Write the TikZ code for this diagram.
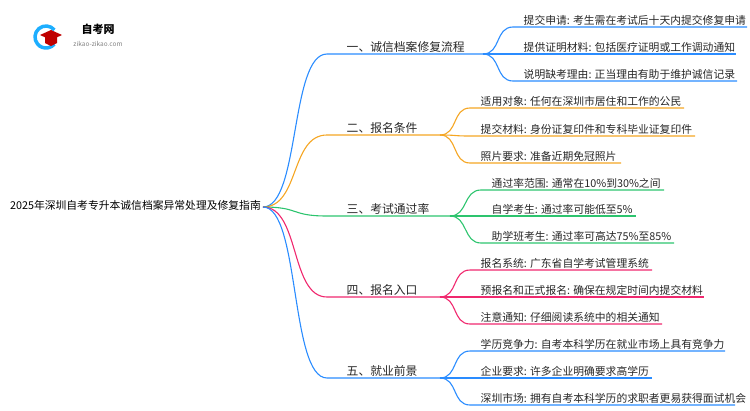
\documentclass[tikz,border=0pt]{standalone}
\usepackage{fontspec}
\setmainfont{Noto Sans CJK SC}
\begin{document}
\begin{tikzpicture}[x=1pt,y=-1pt,
  lnk/.style={line width=1.1pt},
  lab/.style={anchor=south west,inner sep=1.5pt,font=\fontsize{11.8}{13}\selectfont,text=black!85},
  sub/.style={anchor=south west,inner sep=1.5pt,font=\fontsize{10.8}{12}\selectfont,text=black!85}]
\definecolor{cb}{HTML}{2A8CFF}
\definecolor{co}{HTML}{F5A623}
\definecolor{cg}{HTML}{2DC46E}
\definecolor{cp}{HTML}{F0286E}
\useasboundingbox (0,0) rectangle (750,410);
% logo
\begin{scope}[shift={(46,37)},x=1pt,y=1pt]
\draw[cb!70!cyan,line width=3.5pt] (40:11) arc (40:320:11);
\fill[red!75!black] (-6,2) -- (5,7) -- (16,2) -- (5,-3) -- cycle;
\fill[red!75!black] (-1,1) -- (-1,-6) -- (5,-9) -- (11,-6) -- (11,1) -- cycle;
\end{scope}
\node[font=\bfseries\fontsize{11}{12}\selectfont] (logo) at (98,29) {自考网};
\node[font=\fontsize{6.5}{7}\selectfont,text=gray] (url) at (98,44) {zikao-zikao.com};
% root
\node[anchor=east,inner sep=1pt,font=\fontsize{10.8}{12}\selectfont] (root) at (262,205) {2025年深圳自考专升本诚信档案异常处理及修复指南};
\coordinate (r) at (263,207);
\foreach \n/\y/\e/\c/\t/\ya/\ea/\ta/\yb/\eb/\tb/\yc/\ec/\tc/\tx in {
 1/54/483/cb/一、诚信档案修复流程/27/747/提交申请: 考生需在考试后十天内提交修复申请/54/736/提供证明材料: 包括医疗证明或工作调动通知/81/737/说明缺考理由: 正当理由有助于维护诚信记录/513,
 2/135/440/co/二、报名条件/108/684/适用对象: 任何在深圳市居住和工作的公民/136/695/提交材料: 身份证复印件和专科毕业证复印件/163/621/照片要求: 准备近期免冠照片/470,
 3/216/450/cg/三、考试通过率/190/664/通过率范围: 通常在10\%到30\%之间/216/636/自学考生: 通过率可能低至5\%/243/674/助学班考生: 通过率可高达75\%至85\%/481,
 4/297/440/cp/四、报名入口/270/652/报名系统: 广东省自学考试管理系统/297/704/预报名和正式报名: 确保在规定时间内提交材料/324/662/注意通知: 仔细阅读系统中的相关通知/470,
 5/378/440/cb/五、就业前景/351/725/学历竞争力: 自考本科学历在就业市场上具有竞争力/378/652/企业要求: 许多企业明确要求高学历/405/735/深圳市场: 拥有自考本科学历的求职者更易获得面试机会/470}{
  \coordinate (b\n s) at (327,\y);
  \coordinate (b\n e) at (\e,\y);
  \node[lab] (L\n) at (345,\y) {\t};
  \draw[lnk,\c] (r) .. controls (300,207) and (290,\y) .. (b\n s) -- (b\n e);
  \coordinate (c\n a) at (\tx,\ya); \coordinate (c\n ae) at (\ea,\ya);
  \coordinate (c\n b) at (\tx,\yb); \coordinate (c\n be) at (\eb,\yb);
  \coordinate (c\n c) at (\tx,\yc); \coordinate (c\n ce) at (\ec,\yc);
  \draw[lnk,\c] (b\n e) .. controls (\e+18,\y) and (\tx-18,\ya) .. (c\n a) -- (c\n ae);
  \draw[lnk,\c] (b\n e) .. controls (\e+18,\y) and (\tx-18,\yb) .. (c\n b) -- (c\n be);
  \draw[lnk,\c] (b\n e) .. controls (\e+18,\y) and (\tx-18,\yc) .. (c\n c) -- (c\n ce);
  \node[sub] (S\n a) at (\tx+9,\ya) {\ta};
  \node[sub] (S\n b) at (\tx+9,\yb) {\tb};
  \node[sub] (S\n c) at (\tx+9,\yc) {\tc};
}
\end{tikzpicture}
\end{document}
